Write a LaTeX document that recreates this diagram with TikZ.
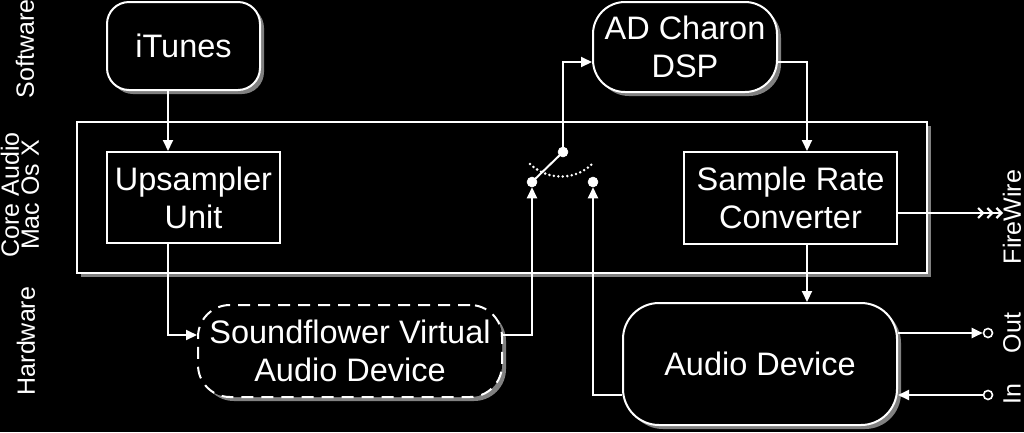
\documentclass[tikz,border=0pt]{standalone}
\usepackage{fontspec}
\setmainfont{Liberation Sans}
\usetikzlibrary{arrows.meta,shadows,calc}
\begin{document}
\begin{tikzpicture}[x=1pt,y=-1pt,line width=2pt,
  box/.style={draw=white, fill=black, align=center, inner sep=0pt, text=white,
              font=\fontsize{32.5}{38}\selectfont},
  shad/.style={drop shadow={shadow xshift=4pt,shadow yshift=-4pt,fill=gray,opacity=1}},
  rbox/.style={box, shad, rounded corners=#1},
  side/.style={text=white, rotate=90, align=center, inner sep=0pt,
               font=\fontsize{25}{20}\selectfont},
  arr/.style={draw=white, -{Triangle[length=11pt,width=10pt]}},
  conn/.style={draw=white},
  contact/.style={circle, fill=white, draw=white, line width=0.5pt, minimum size=10pt, inner sep=0pt},
  port/.style={circle, fill=black, draw=white, line width=1.6pt, minimum size=9pt, inner sep=0pt},
  chev/.style={draw=white, -{Straight Barb[length=5pt,width=10pt,line width=2.2pt,sep=1.5pt]
                             Straight Barb[length=5pt,width=10pt,line width=2.2pt,sep=1.5pt]
                             Straight Barb[length=5pt,width=10pt,line width=2.2pt]}}
]
\fill[black] (0,0) rectangle (1024,432);
\useasboundingbox (0,0) rectangle (1024,432);

% boxes
\node[box, shad, minimum width=850pt, minimum height=151pt] (core) at (502,197.5) {};
\node[rbox=22pt, minimum width=153pt, minimum height=88pt] (itunes) at (183.5,46) {iTunes};
\node[box, minimum width=173pt, minimum height=91pt] (up) at (193.5,197.5) {Upsampler\\Unit};
\node[rbox=32pt, dashed, dash pattern=on 12pt off 8pt, minimum width=304pt, minimum height=92pt] (sf) at (350,351) {Soundflower Virtual\\Audio Device};
\node[rbox=32pt, minimum width=184pt, minimum height=90pt] (dsp) at (685,47) {AD Charon\\DSP};
\node[box, minimum width=213pt, minimum height=92pt] (src) at (790.5,198) {Sample Rate\\Converter};
\node[rbox=36pt, minimum width=274pt, minimum height=122pt] (ad) at (760,364) {Audio Device};

% side labels
\node[side] (lsw) at (25,49) {Software};
\node[side] (lca) at (20,195) {Core Audio\\Mac Os X};
\node[side] (lhw) at (26,341) {Hardware};
\node[side] (lfw) at (1012,217) {FireWire};
\node[side] (lout) at (1012,333) {Out};
\node[side] (lin) at (1012,394) {In};

% switch
\node[contact] (cl) at (532,182) {};
\node[contact] (cr) at (593,182) {};
\node[contact] (piv) at (563,152) {};
\draw[white, line width=2.8pt, line cap=round, dash pattern=on 0pt off 4.5pt]
  (530,164) .. controls (548,181) and (577,181) .. (594,162);

% helper coordinates
\coordinate (x168) at (168,0);
\coordinate (x807) at (807,0);
\coordinate (y62) at (0,62);
\coordinate (y335) at (0,335);
\coordinate (y213) at (0,213);
\coordinate (y333) at (0,333);
\coordinate (y395) at (0,395);
\coordinate (sfr) at (532,335);
\coordinate (pvt) at (563,62);
\coordinate (dspr) at (807,62);
\coordinate (upb) at (168,335);
\coordinate (adl) at (593,395);
\coordinate (fwend) at (1003,213);
\node[port] (pout) at (988,333) {};
\node[port] (pin) at (988,395) {};

% connectors
\draw[arr] (itunes.south -| x168) -- (up.north -| x168);
\draw[arr] (up.south -| x168) -- (upb) -- (sf.west |- y335);
\draw[arr] (sf.east |- y335) -- (sfr) -- (cl.south);
\draw[conn] (piv.center) -- (cl.center);
\draw[arr] (piv.center) -- (pvt) -- (dsp.west |- y62);
\draw[arr] (dsp.east |- y62) -- (dspr) -- (src.north -| x807);
\draw[arr] (src.south -| x807) -- (ad.north -| x807);
\draw[chev] (src.east |- y213) -- (fwend);
\draw[arr] (ad.east |- y333) -- (pout.west);
\draw[arr] (pin.west) -- (ad.east |- y395);
\draw[arr] (ad.west |- y395) -- (adl) -- (cr.south);
\end{tikzpicture}
\end{document}
